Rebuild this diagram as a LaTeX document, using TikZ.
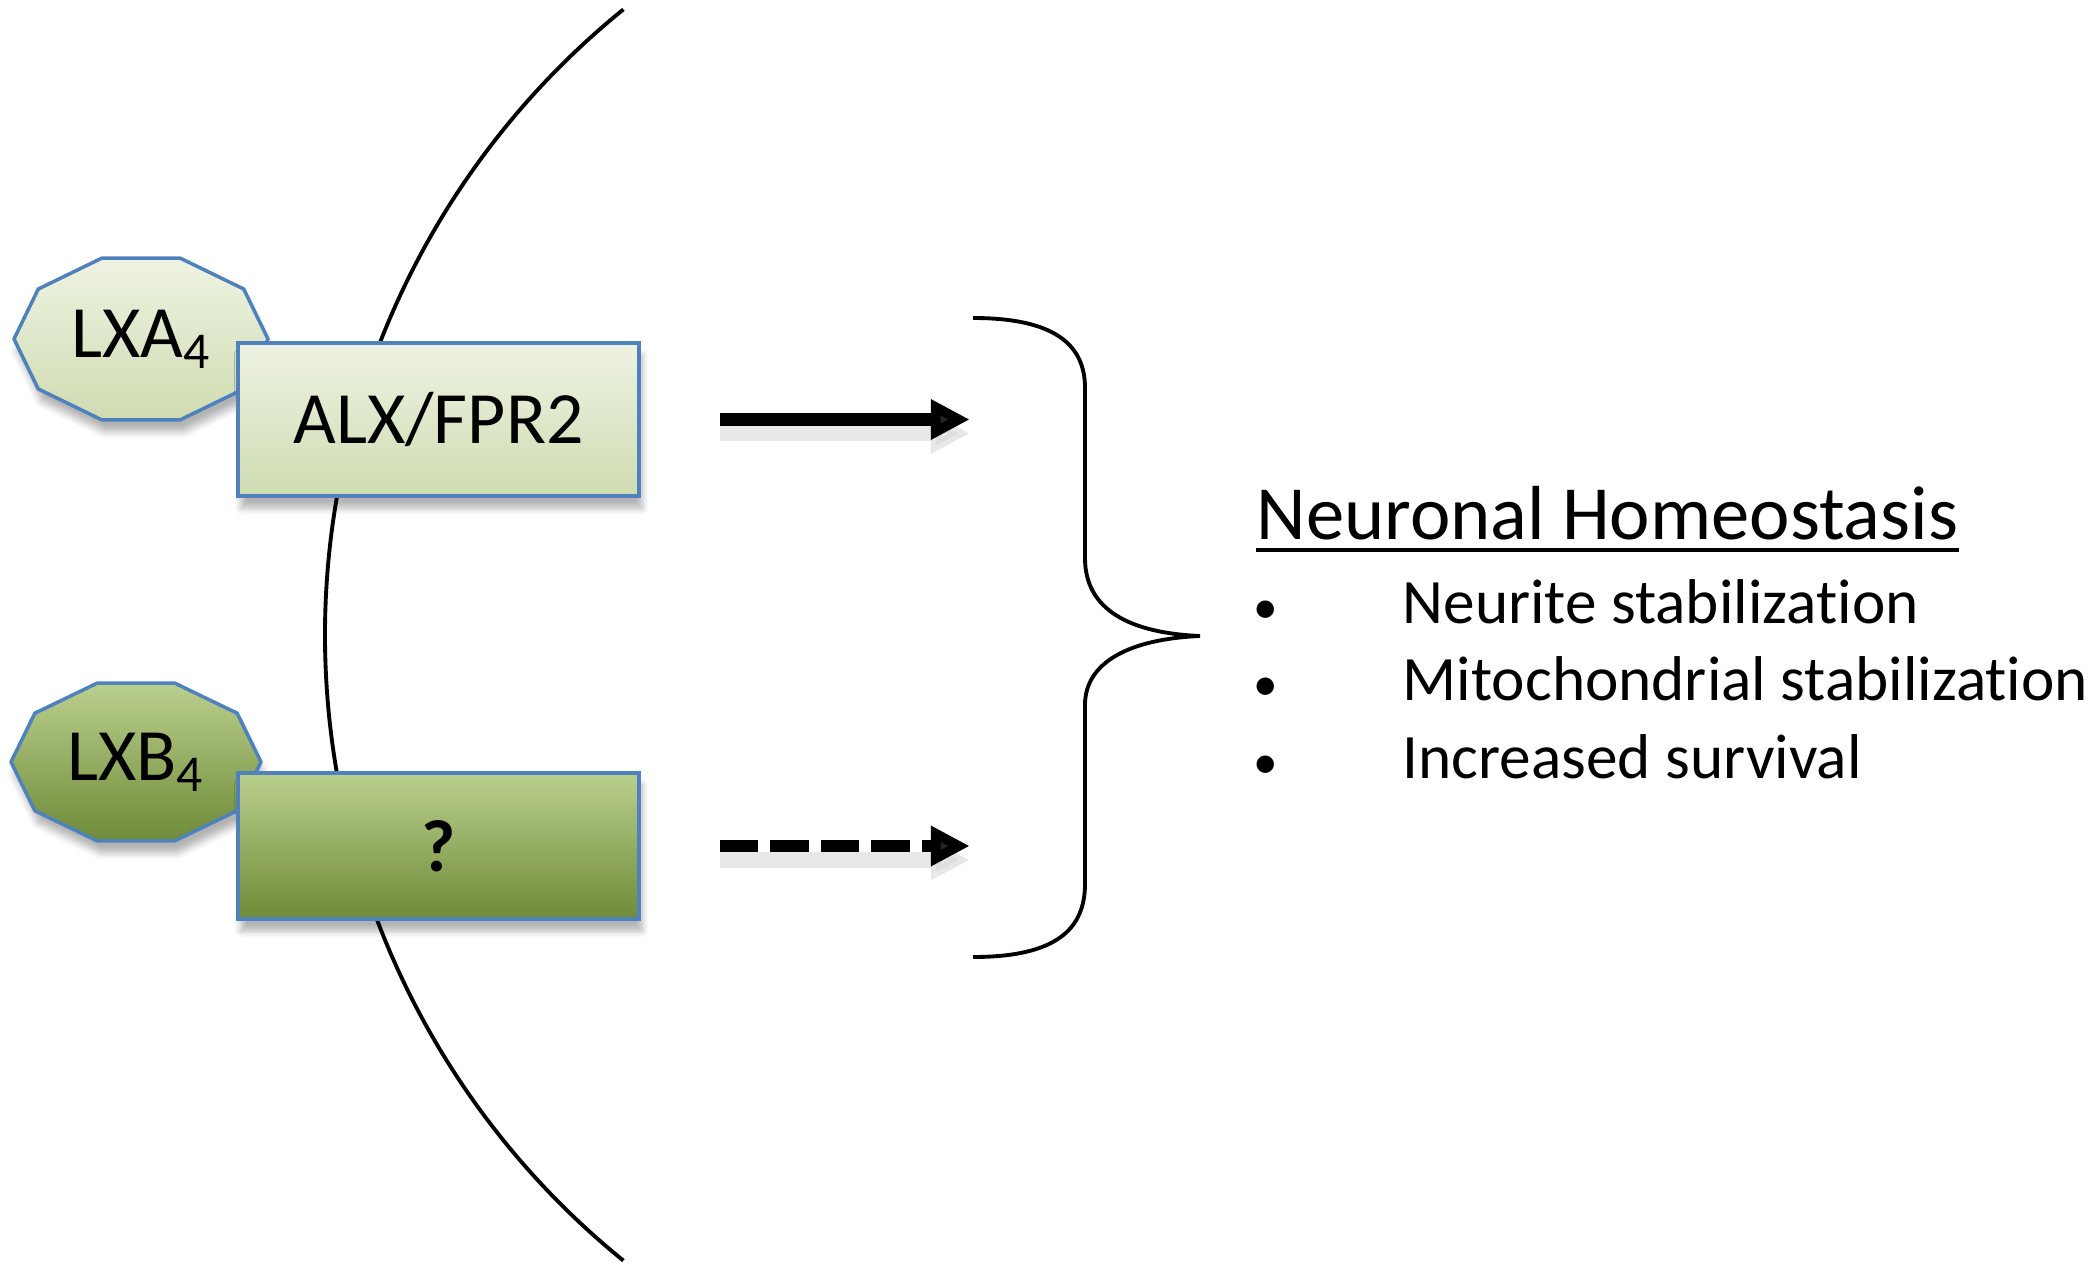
\documentclass[tikz,border=0pt]{standalone}
\usepackage{fontspec}
\setmainfont{Carlito}[RawFeature={-liga;-clig;-calt;-dlig}]
\usetikzlibrary{arrows.meta, calc, shadows.blur}
\usepackage{xcolor}
\definecolor{rimblue}{HTML}{4F81BD}
\definecolor{paletop}{HTML}{EEF3E2}
\definecolor{palebot}{HTML}{CFDCB2}
\definecolor{olivetop}{HTML}{BACF8D}
\definecolor{olivebot}{HTML}{6F8B38}

\begin{document}
\begin{tikzpicture}[>={Triangle[length=3.9mm,width=3.8mm]}, font=\fontsize{21}{25}\selectfont]
    \tikzstyle{softshadow}=[blur shadow={shadow xshift=0.3mm, shadow yshift=-1.2mm, shadow blur steps=6, shadow opacity=30}]
    \tikzstyle{receptor}=[rectangle, draw=rimblue, line width=1pt, minimum width=4.01cm, inner sep=0pt, softshadow]
    \tikzstyle{ligand}=[draw=rimblue, line width=1pt, line join=round, softshadow]
    \tikzstyle{pale}=[top color=paletop, bottom color=palebot]
    \tikzstyle{olive}=[top color=olivetop, bottom color=olivebot]
    \tikzstyle{flow}=[->, line width=3.6pt, preaction={draw=black!15, line width=4.5pt, opacity=0.6, transform canvas={yshift=-1.4mm}}]
    \tikzstyle{item}=[anchor=base west, inner sep=0pt, font=\fontsize{18}{22}\selectfont]
    \tikzstyle{dot}=[anchor=base, inner sep=0pt, font=\fontsize{14}{18}\selectfont]

    \useasboundingbox (0,0) rectangle (21,-12.7);

    % membrane
    \draw[line width=1.1pt] (11.30,-6.35) ++(129:8.05) arc[start angle=129, end angle=231, radius=8.05];

    % lipoxins
    \coordinate (lxa-c) at (1.41,-3.39);
    \coordinate (lxb-c) at (1.36,-7.62);
    \draw[ligand, pale] ($(lxa-c)+(0:1.27cm and 0.85cm)$) \foreach \a in {36,72,...,324}{ -- ($(lxa-c)+(\a:1.27cm and 0.85cm)$)} -- cycle;
    \draw[ligand, olive] ($(lxb-c)+(0:1.25cm and 0.83cm)$) \foreach \a in {36,72,...,324}{ -- ($(lxb-c)+(\a:1.25cm and 0.83cm)$)} -- cycle;
    \node (lxa) at (lxa-c) {LXA\textsubscript{4}};
    \node (lxb) at (lxb-c) {LXB\textsubscript{4}};

    % receptors
    \node[receptor, pale, minimum height=1.53cm] (alx) at (4.385,-4.195) {ALX/FPR2};
    \node[receptor, olive, minimum height=1.46cm] (orphan) at (4.385,-8.46) {\textbf{?}};

    \draw[flow] ([xshift=7.9mm]alx.east) -- ([xshift=32.9mm]alx.east);
    \draw[flow, dash pattern=on 3.85mm off 1.2mm] ([xshift=7.9mm]orphan.east) -- ([xshift=32.9mm]orphan.east);

    % brace
    \draw[line width=1.1pt] (9.73,-3.18) .. controls (10.55,-3.18) and (10.85,-3.45) .. (10.85,-3.88)
        -- (10.85,-5.58) .. controls (10.85,-6.10) and (11.30,-6.33) .. (12.00,-6.36)
        .. controls (11.30,-6.39) and (10.85,-6.62) .. (10.85,-7.05)
        -- (10.85,-8.84) .. controls (10.85,-9.30) and (10.55,-9.57) .. (9.73,-9.57);

    % outcome
    \node[anchor=base west, inner sep=0pt, font=\fontsize{21.8}{26}\selectfont] (homeo) at (12.56,-5.39) {Neuronal Homeostasis};
    \draw[line width=1.1pt] ([yshift=-1.1mm]homeo.base west) -- ([yshift=-1.1mm]homeo.base east);

    \node[dot] (dot1) at (12.66,-6.23) {\textbullet};
    \node[item] (neurite) at (14.02,-6.23) {Neurite stabilization};
    \node[dot] (dot2) at (12.66,-7.00) {\textbullet};
    \node[item] (mito) at (14.02,-7.00) {Mitochondrial stabilization};
    \node[dot] (dot3) at (12.66,-7.78) {\textbullet};
    \node[item] (survival) at (14.02,-7.78) {Increased survival};
\end{tikzpicture}
\end{document}
